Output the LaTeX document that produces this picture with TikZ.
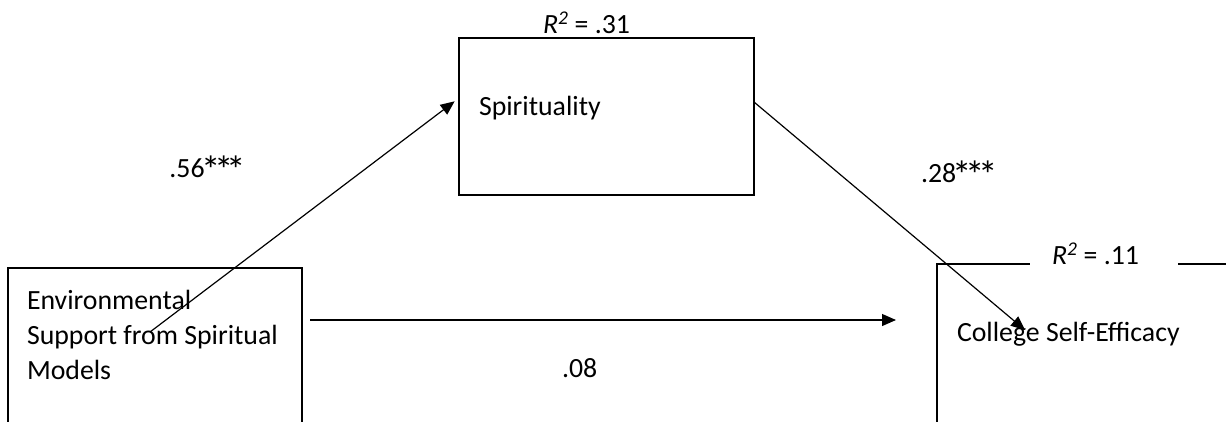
\documentclass[tikz,border=0pt]{standalone}
\usepackage{fontspec}
\usepackage{graphicx}
\setmainfont{Carlito}
\usetikzlibrary{arrows.meta}
\newcommand\sigmark{\makebox[0.46em]{\raisebox{-6.5bp}{\scalebox{1.4}{*}}}}
\begin{document}
\begin{tikzpicture}[x=1bp,y=-1bp,
  boxline/.style={line width=2.4bp},
  lbl/.style={inner sep=0pt, outer sep=0pt, anchor=base west, font=\fontsize{27.8bp}{34bp}\selectfont},
  conn/.style={line width=1.2bp, -{Triangle[length=14bp,width=12bp]}},
  frame/.style={inner sep=0pt, outer sep=0pt, anchor=north west},
]
\useasboundingbox (0,0) rectangle (1226,421);
% boxes
\node[frame, draw, boxline, minimum width=295bp, minimum height=157bp] (sp) at (459,38) {};
\node[frame, minimum width=294bp, minimum height=170bp] (env) at (8,268) {};
\node[frame, minimum width=300bp, minimum height=170bp] (cse) at (937,264) {};
\draw[boxline] (env.south west) -- (env.north west) -- (env.north east) -- (env.south east);
\draw[boxline] (cse.south west) -- (cse.north west) -- ([xshift=93bp]cse.north west);
\draw[boxline] ([xshift=241bp]cse.north west) -- ([xshift=300bp]cse.north west);
% texts
\node[lbl] (spt) at (479,115) {Spirituality};
\node[lbl] (env1) at (27,309) {Environmental};
\node[lbl] (env2) at (27,344) {Support from Spiritual};
\node[lbl] (env3) at (27,379) {Models};
\node[lbl] (cset) at (957,341) {College Self-Efficacy};
\node[lbl] (r31) at (543,33) {\textit{R}\textsuperscript{\textit{2}} = .31};
\node[lbl] (r11) at (1052,264) {\textit{R}\textsuperscript{\textit{2}} = .11};
\node[lbl, anchor=base east] (b56) at (243,177) {.56\sigmark\sigmark\sigmark};
\node[lbl] (b28) at (921,182) {.28\sigmark\sigmark\sigmark};
\node[lbl] (b08) at (562,377) {.08};
% connectors
\coordinate (a1s) at (150,332);
\coordinate (a2e) at (1025,330);
\coordinate (hy) at (0,320);
\draw[conn, shorten >=5.5bp] (a1s) -- ([yshift=18.5bp]sp.west);
\draw[conn] ([yshift=14.5bp]sp.east) -- (a2e);
\draw[conn, shorten <=8bp, shorten >=41bp] (env.north east |- hy) -- (cse.north west |- hy);
\end{tikzpicture}
\end{document}
